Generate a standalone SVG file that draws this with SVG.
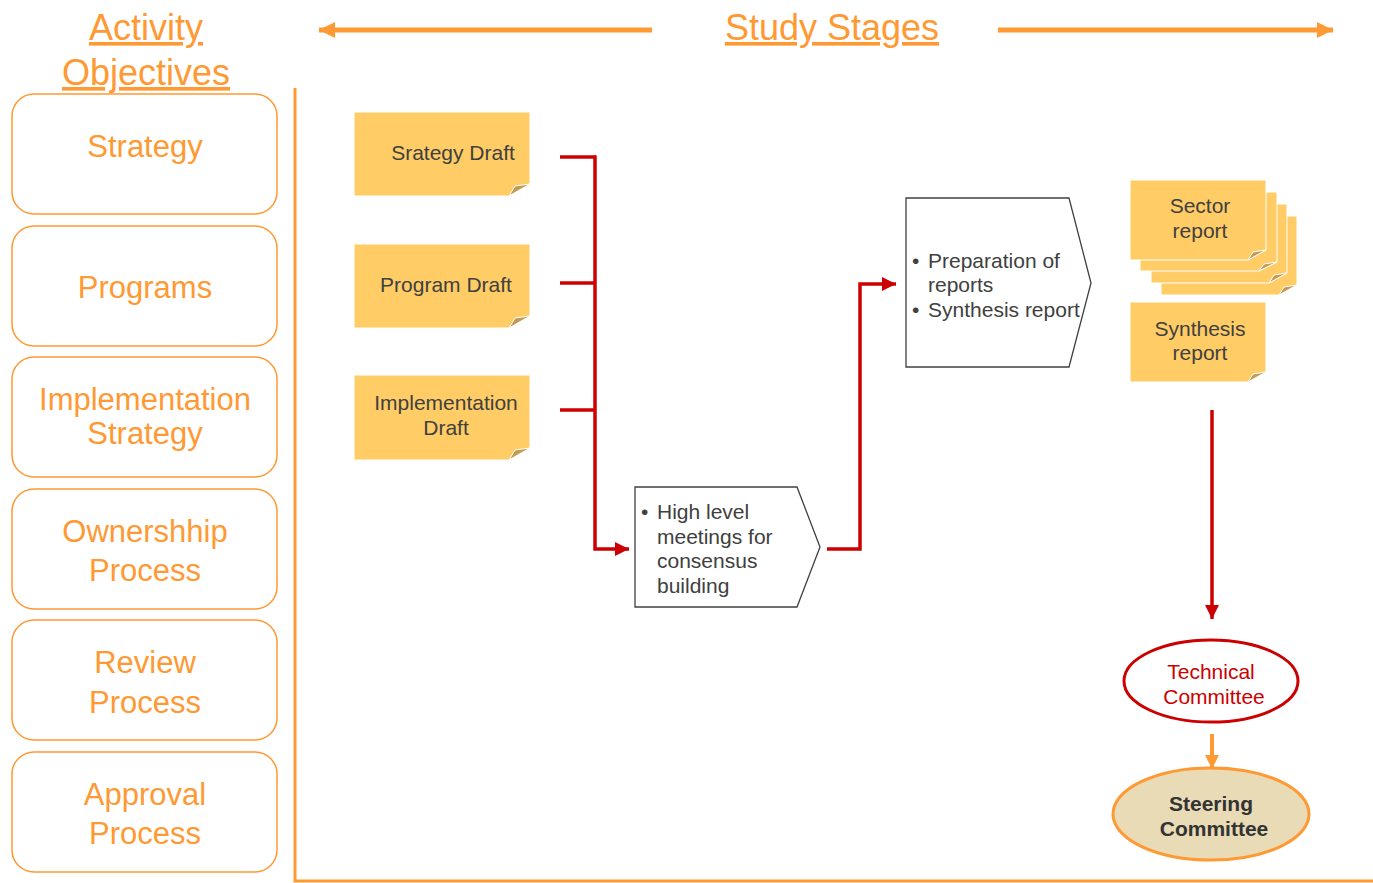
<svg xmlns="http://www.w3.org/2000/svg" width="1373" height="883" viewBox="0 0 1373 883">
<style>
text{font-family:"Liberation Sans",Arial,sans-serif}
.title{font-size:36px;fill:#FF9933;text-decoration:underline;text-anchor:middle}
.obj{fill:#fff;stroke:#FF9933;stroke-width:1.5}
.objt{font-size:31px;fill:#FF9933;text-anchor:middle}
.note{fill:#FFCC66;stroke:#fff;stroke-width:1}
.fold{fill:#C49A52;stroke:#fff;stroke-width:1}
.nt{font-size:21px;fill:#404040;text-anchor:middle}
.pent{fill:#fff;stroke:#404040;stroke-width:1.3}
.pt{font-size:21px;fill:#404040}
.red{fill:none;stroke:#CC0000;stroke-width:3.5}
.org{fill:none;stroke:#FF9933;stroke-width:5}
</style>
<defs>
<marker id="ar" markerUnits="userSpaceOnUse" markerWidth="16" markerHeight="16" refX="14" refY="7" orient="auto"><path d="M0,0 L14,7 L0,14 Z" fill="#CC0000"/></marker>
<marker id="ao" markerUnits="userSpaceOnUse" markerWidth="18" markerHeight="18" refX="16" refY="8" orient="auto"><path d="M0,0 L16,8 L0,16 Z" fill="#FF9933"/></marker>
<marker id="ao2" markerUnits="userSpaceOnUse" markerWidth="16" markerHeight="16" refX="14" refY="7" orient="auto"><path d="M0,0 L14,7 L0,14 Z" fill="#FF9933"/></marker>
</defs>
<rect width="1373" height="883" fill="#fff"/>

<g id="headers">
<text class="title" x="146" y="40">Activity</text>
<text class="title" x="146" y="85">Objectives</text>
<text class="title" x="832" y="40">Study Stages</text>
<line class="org" x1="652" y1="30" x2="319" y2="30" marker-end="url(#ao)"/>
<line class="org" x1="998" y1="30" x2="1333" y2="30" marker-end="url(#ao)"/>
</g>

<g id="frame">
<path d="M295,88 V881 H1373" fill="none" stroke="#FF9933" stroke-width="3"/>
</g>

<g id="obj-strategy"><rect class="obj" x="12" y="94" width="265" height="120" rx="22"/><text class="objt" x="145" y="157">Strategy</text></g>
<g id="obj-programs"><rect class="obj" x="12" y="226" width="265" height="120" rx="22"/><text class="objt" x="145" y="298">Programs</text></g>
<g id="obj-implementation"><rect class="obj" x="12" y="357" width="265" height="120" rx="22"/><text class="objt" x="145" y="410">Implementation</text><text class="objt" x="145" y="444">Strategy</text></g>
<g id="obj-ownership"><rect class="obj" x="12" y="489" width="265" height="120" rx="22"/><text class="objt" x="145" y="542">Ownershhip</text><text class="objt" x="145" y="581">Process</text></g>
<g id="obj-review"><rect class="obj" x="12" y="620" width="265" height="120" rx="22"/><text class="objt" x="145" y="673">Review</text><text class="objt" x="145" y="713">Process</text></g>
<g id="obj-approval"><rect class="obj" x="12" y="752" width="265" height="120" rx="22"/><text class="objt" x="145" y="805">Approval</text><text class="objt" x="145" y="844">Process</text></g>

<g id="note-strategy">
<polygon class="note" points="354,112 530,112 530,184 509,196 354,196"/>
<polygon class="fold" points="509,196 515,186 530,184"/>
<text class="nt" x="453" y="160">Srategy Draft</text>
</g>
<g id="note-program">
<polygon class="note" points="354,244 530,244 530,316 509,328 354,328"/>
<polygon class="fold" points="509,328 515,318 530,316"/>
<text class="nt" x="446" y="292">Program Draft</text>
</g>
<g id="note-implementation">
<polygon class="note" points="354,375 530,375 530,448 509,460 354,460"/>
<polygon class="fold" points="509,460 515,450 530,448"/>
<text class="nt" x="446" y="410">Implementation</text>
<text class="nt" x="446" y="435">Draft</text>
</g>

<g id="stage-meetings">
<polygon class="pent" points="635,487 797,487 820,547 797,607 635,607"/>
<text class="pt" x="641" y="519">•</text>
<text class="pt" x="657" y="519">High level</text>
<text class="pt" x="657" y="544">meetings for</text>
<text class="pt" x="657" y="568">consensus</text>
<text class="pt" x="657" y="593">building</text>
</g>

<g id="stage-reports">
<polygon class="pent" points="906,198 1069,198 1091,283 1069,367 906,367"/>
<text class="pt" x="912" y="268">•</text>
<text class="pt" x="928" y="268">Preparation of</text>
<text class="pt" x="928" y="292">reports</text>
<text class="pt" x="912" y="317">•</text>
<text class="pt" x="928" y="317">Synthesis report</text>
</g>

<g id="sector-report">
<polygon class="note" points="1161,216 1297,216 1297,285 1279,295 1161,295"/>
<polygon class="fold" points="1279,295 1284,287 1297,285"/>
<polygon class="note" points="1151,204 1287,204 1287,273 1269,283 1151,283"/>
<polygon class="fold" points="1269,283 1274,275 1287,273"/>
<polygon class="note" points="1140,192 1277,192 1277,262 1259,271 1140,271"/>
<polygon class="fold" points="1259,271 1264,264 1277,262"/>
<polygon class="note" points="1130,180 1266,180 1266,250 1248,260 1130,260"/>
<polygon class="fold" points="1248,260 1253,252 1266,250"/>
<text class="nt" x="1200" y="213">Sector</text>
<text class="nt" x="1200" y="238">report</text>
</g>

<g id="synthesis-report">
<polygon class="note" points="1130,302 1266,302 1266,372 1248,382 1130,382"/>
<polygon class="fold" points="1248,382 1253,374 1266,372"/>
<text class="nt" x="1200" y="336">Synthesis</text>
<text class="nt" x="1200" y="360">report</text>
</g>

<g id="technical-committee">
<ellipse cx="1211" cy="681" rx="87" ry="41" fill="#fff" stroke="#CC0000" stroke-width="3"/>
<text x="1211" y="679" font-size="21" fill="#CC0000" text-anchor="middle">Technical</text>
<text x="1214" y="704" font-size="21" fill="#CC0000" text-anchor="middle">Committee</text>
</g>

<g id="steering-committee">
<ellipse cx="1211" cy="814" rx="98" ry="46" fill="#E8DBB5" stroke="#FF9933" stroke-width="3"/>
<text x="1211" y="811" font-size="21" font-weight="bold" fill="#333" text-anchor="middle">Steering</text>
<text x="1214" y="836" font-size="21" font-weight="bold" fill="#333" text-anchor="middle">Committee</text>
</g>

<g id="connectors">
<line class="red" x1="560" y1="157" x2="596" y2="157"/>
<line class="red" x1="560" y1="283" x2="596" y2="283"/>
<line class="red" x1="560" y1="410" x2="596" y2="410"/>
<path class="red" d="M595,155.5 V549 H629" marker-end="url(#ar)"/>
<path class="red" d="M827,549 H860 V284 H896" marker-end="url(#ar)"/>
<line class="red" x1="1212" y1="410" x2="1212" y2="619" marker-end="url(#ar)"/>
<line x1="1212" y1="734" x2="1212" y2="769" stroke="#FF9933" stroke-width="4" marker-end="url(#ao2)"/>
</g>
</svg>
